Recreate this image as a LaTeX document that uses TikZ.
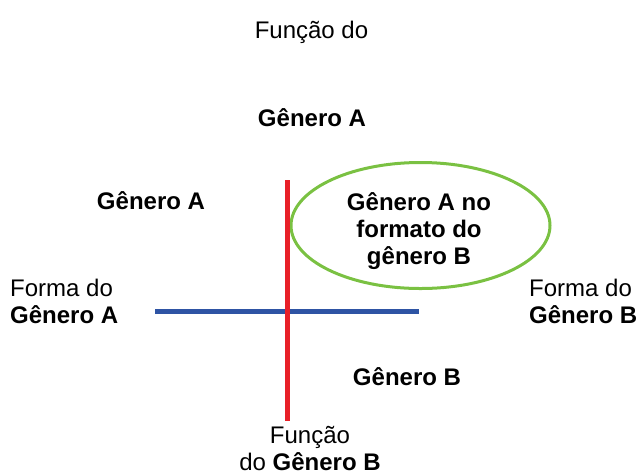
\documentclass[tikz,border=0pt]{standalone}
\usepackage{fontspec}
\setmainfont{Liberation Sans}
\definecolor{axred}{RGB}{232,32,40}
\definecolor{axblue}{RGB}{46,84,164}
\definecolor{ovgreen}{RGB}{122,193,66}
\begin{document}
\begin{tikzpicture}[x=1pt,y=-1pt,
  lbl/.style={inner sep=0pt, anchor=base, font=\fontsize{24}{27}\selectfont, align=center},
  lbll/.style={inner sep=0pt, anchor=base west, font=\fontsize{24}{27}\selectfont, align=left},
  redaxis/.style={draw=axred, line width=5pt},
  blueaxis/.style={draw=axblue, line width=5pt},
  oval/.style={draw=ovgreen, line width=3pt}]
\useasboundingbox (0,0) rectangle (639,475);
% axes
\coordinate (rtop) at (287.5,180);
\coordinate (rbot) at (287.5,420.7);
\coordinate (bl) at (155.3,311.5);
\coordinate (br) at (418.7,311.5);
\draw[blueaxis] (bl) -- (br);
\draw[oval] (420.5,225.5) ellipse [x radius=129.5, y radius=63];
\draw[redaxis] (rtop) -- (rbot);
% labels
\node[lbl] (ftop) at (311.5,38) {Função do};
\node[lbl] (gatop) at (312,126) {\textbf{Gênero A}};
\node[lbl] (galeft) at (151,209) {\textbf{Gênero A}};
\node[lbl] (inov) at (419,264) {\textbf{Gênero A no}\\\textbf{formato do}\\\textbf{gênero B}};
\node[lbll] (formaA) at (10,323) {Forma do\\\textbf{Gênero A}};
\node[lbll] (formaB) at (529,323) {Forma do\\\textbf{Gênero B}};
\node[lbl] (gbq) at (407,385) {\textbf{Gênero B}};
\node[lbl] (fbot) at (310,470) {Função\\do \textbf{Gênero B}};
\end{tikzpicture}
\end{document}
